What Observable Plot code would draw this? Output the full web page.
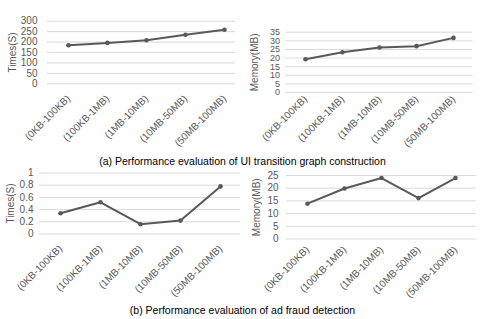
<!DOCTYPE html>
<html>
<head>
<meta charset="utf-8">
<script src="https://cdn.jsdelivr.net/npm/d3@7"></script>
<script src="https://cdn.jsdelivr.net/npm/@observablehq/plot@0.6"></script>
<style>
  html, body { margin: 0; padding: 0; background: #fff; }
  #wrap { position: relative; width: 485px; height: 319px; font-family: "Liberation Sans", Arial, sans-serif; }
  .panel { position: absolute; overflow: visible; }
  svg.panel, svg.panel text { font-family: "Liberation Sans", Arial, sans-serif !important; }
  .cap { position: absolute; left: 0; width: 485px; text-align: center; font-size: 10.5px; color: #000; line-height: 1; }
</style>
</head>
<body>
<div id="wrap"></div>
<script>
const sizes = ["(0KB-100KB)", "(100KB-1MB)", "(1MB-10MB)", "(10MB-50MB)", "(50MB-100MB)"];
const uiTime = [185, 196, 209, 235, 259];
const uiMemory = [19.3, 23.4, 26.1, 26.9, 31.7];
const adTime = [0.34, 0.52, 0.16, 0.22, 0.78];
const adMemory = [13.9, 19.9, 24.0, 16.1, 24.0];
const uiTimeTicks = [0, 50, 100, 150, 200, 250, 300];
const uiMemoryTicks = [0, 5, 10, 15, 20, 25, 30, 35];
const adTimeTicks = [0, 0.2, 0.4, 0.6, 0.8, 1];
const adMemoryTicks = [0, 5, 10, 15, 20, 25];
const captionA = "(a) Performance evaluation of UI transition graph construction";
const captionB = "(b) Performance evaluation of ad fraud detection";

const gray = "#595959";
const wrap = document.getElementById("wrap");

function panel({values, ticks, label, left, top, width, height, mt, mb, ml, mr, tickPad, xPad, labelOffset, yFont = 10, gridInsetRight = 0}) {
  const data = sizes.map((s, i) => ({s, v: values[i]}));
  const chart = Plot.plot({
    width, height,
    marginTop: mt, marginBottom: mb, marginLeft: ml, marginRight: mr,
    style: {fontSize: "10px", color: gray, background: "transparent", overflow: "visible"},
    x: {type: "point", domain: sizes, padding: 0.5},
    y: {domain: [ticks[0], ticks[ticks.length - 1]]},
    marks: [
      Plot.ruleY(ticks, {stroke: "#d9d9d9", strokeWidth: 1, insetRight: gridInsetRight}),
      Plot.axisY(ticks, {tickSize: 0, tickPadding: tickPad, tickFormat: d => String(d), label: null, fill: gray, fontSize: yFont}),
      Plot.axisY({label, labelAnchor: "center", labelArrow: "none", labelOffset, ticks: [], tickSize: 0, fill: gray, fontSize: 10}),
      Plot.axisX({tickSize: 0, tickRotate: -45, tickPadding: xPad, label: null, fill: gray, fontSize: 10}),
      Plot.line(data, {x: "s", y: "v", stroke: gray, strokeWidth: 2}),
      Plot.dot(data, {x: "s", y: "v", fill: gray, r: 2.3})
    ]
  });
  chart.classList.add("panel");
  chart.style.left = left + "px";
  chart.style.top = top + "px";
  wrap.appendChild(chart);
}

panel({values: uiTime, ticks: uiTimeTicks, label: "Times(S)", left: 0, top: 0, width: 245, height: 150,
  mt: 20.7, mb: 66.7, ml: 47, mr: 1, tickPad: 10, xPad: 13, labelOffset: 39, gridInsetRight: 9});
panel({values: uiMemory, ticks: uiMemoryTicks, label: "Memory(MB)", left: 245, top: 0, width: 240, height: 150,
  mt: 31.7, mb: 58, ml: 40.6, mr: 12.6, tickPad: 6, xPad: 5, labelOffset: 35, yFont: 9});
panel({values: adTime, ticks: adTimeTicks, label: "Times(S)", left: 0, top: 160, width: 245, height: 140,
  mt: 12.5, mb: 66.5, ml: 39, mr: 5, tickPad: 6, xPad: 13, labelOffset: 33});
panel({values: adMemory, ticks: adMemoryTicks, label: "Memory(MB)", left: 245, top: 160, width: 240, height: 140,
  mt: 15, mb: 61.5, ml: 41, mr: 9.4, tickPad: 8, xPad: 9, labelOffset: 34});

const ca = document.createElement("div");
ca.className = "cap"; ca.textContent = captionA; ca.style.top = "156px";
wrap.appendChild(ca);
const cb = document.createElement("div");
cb.className = "cap"; cb.textContent = captionB; cb.style.top = "305px";
wrap.appendChild(cb);
</script>
</body>
</html>
